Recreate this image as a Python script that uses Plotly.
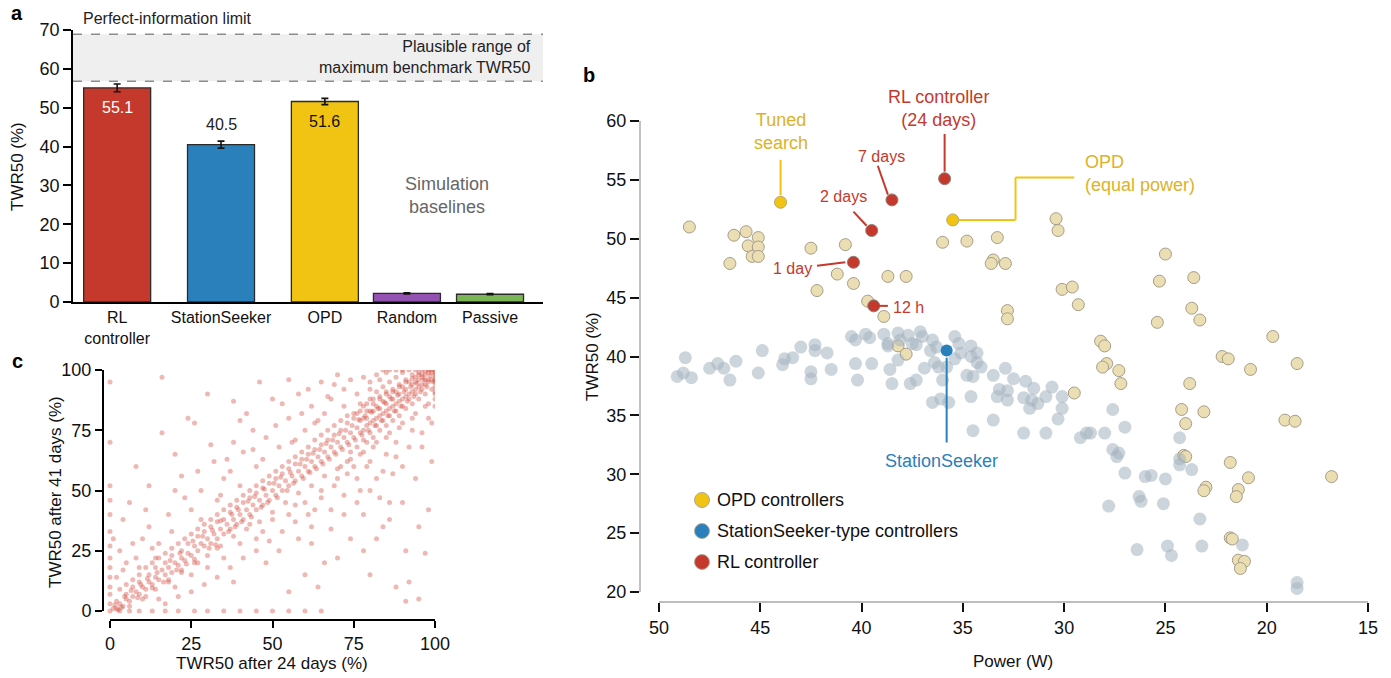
import plotly.graph_objects as go

W, H = 1391, 678
FONT = "Liberation Sans, Arial, sans-serif"


def px(x):
    return x / W


def py(y):
    return 1 - y / H


RED = "#c5392d"
BLUE = "#2a80bb"
GOLD = "#f1c414"
GOLD_TEXT = "#dcb22a"
PURPLE = "#9352b1"
GREEN = "#7ab658"
TAN = "#ecdeb3"
TAN_EDGE = "#a59d89"
SS_GREY = "rgba(164,179,191,0.55)"

# ---------------- panel a: benchmark TWR50 per controller ----------------
controllers = ["RL<br>controller", "StationSeeker", "OPD", "Random", "Passive"]
twr50_mean = [55.1, 40.5, 51.6, 2.2, 2.0]
twr50_err = [1.0, 0.9, 0.8, 0.15, 0.15]
bar_colors = [RED, BLUE, GOLD, PURPLE, GREEN]
bar_pos = [0.0, 1.0, 2.0, 2.79, 3.59]
benchmark_range = [56.8, 68.9]

# ---------------- panel b: TWR50 against power ----------------
opd_points = [
    (48.5, 51.0), (46.3, 50.3), (45.7, 50.6), (45.1, 50.1), (45.6, 49.4), (45.1, 49.3),
    (45.4, 48.5), (45.1, 48.5), (46.5, 47.9), (42.5, 49.2), (40.8, 49.5), (41.2, 47.0),
    (40.4, 46.2), (42.2, 45.6), (39.7, 44.7), (38.9, 43.4), (38.7, 46.8), (37.8, 46.8),
    (36.0, 49.7), (34.8, 49.8), (33.3, 50.1), (33.5, 48.2), (33.6, 47.9), (32.9, 47.9),
    (30.4, 51.7), (30.3, 50.7), (30.1, 45.7), (29.6, 45.9), (29.3, 44.4), (32.8, 43.9),
    (32.8, 43.2), (25.0, 48.7), (25.3, 46.4), (23.6, 46.7), (23.7, 44.1), (23.3, 43.1),
    (25.4, 42.9), (19.7, 41.7), (28.2, 41.3), (28.0, 40.9), (27.9, 39.4), (28.1, 39.1),
    (27.3, 38.8), (27.2, 37.7), (23.8, 37.7), (22.2, 40.0), (21.9, 39.8), (20.8, 38.9),
    (18.5, 39.4), (38.2, 40.9), (37.8, 40.2), (29.5, 36.9), (24.2, 35.5), (23.1, 35.3),
    (24.0, 34.3), (19.1, 34.6), (18.6, 34.5), (24.1, 31.6), (24.0, 31.5), (21.8, 31.0),
    (20.9, 29.7), (16.8, 29.8), (23.0, 28.9), (23.1, 28.6), (21.4, 28.7), (21.5, 28.1),
    (21.8, 24.6), (21.7, 24.5), (21.4, 22.7), (21.1, 22.6), (21.3, 22.0),
]

stationseeker_points = [
    (49.1, 38.3), (48.8, 38.6), (48.4, 38.2), (48.7, 39.9), (47.5, 39.0), (47.1, 39.4),
    (46.8, 39.0), (46.5, 38.0), (46.2, 39.6), (44.9, 40.5), (45.1, 38.6), (43.8, 39.8),
    (43.9, 39.3), (43.4, 39.9), (43.0, 40.8), (42.3, 41.0), (42.3, 40.5), (41.7, 40.3),
    (42.5, 38.7), (42.5, 38.1), (41.5, 38.9), (40.5, 41.7), (40.3, 41.4), (39.8, 41.9),
    (39.6, 41.6), (40.3, 39.4), (39.5, 39.4), (40.2, 38.0), (38.9, 41.9), (38.7, 40.9),
    (38.2, 42.0), (38.6, 38.9), (38.2, 39.7), (38.5, 37.7), (38.7, 41.1), (38.1, 41.4),
    (37.7, 41.8), (37.5, 41.1), (37.1, 42.1), (37.0, 41.7), (37.3, 41.0), (36.5, 41.4),
    (36.6, 40.5), (36.3, 40.8), (37.6, 37.7), (37.3, 38.0), (36.9, 39.0), (36.4, 39.5),
    (36.2, 39.1), (36.0, 38.0), (35.8, 39.1), (35.4, 41.7), (35.2, 41.1), (35.1, 40.3),
    (35.4, 39.8), (34.6, 40.9), (34.6, 40.0), (34.3, 40.3), (34.3, 39.5), (34.1, 39.1),
    (34.8, 38.4), (34.5, 38.3), (33.5, 38.4), (32.9, 39.0), (32.5, 38.1), (31.9, 37.9),
    (33.2, 37.2), (32.8, 37.1), (33.3, 36.6), (32.8, 36.3), (32.0, 36.5), (31.5, 37.3),
    (31.6, 36.3), (31.3, 36.0), (31.7, 35.6), (30.9, 36.6), (30.6, 37.4), (30.1, 36.6),
    (30.1, 35.6), (30.3, 34.7), (34.6, 36.6), (36.5, 36.1), (36.1, 36.4), (35.7, 36.1),
    (33.5, 34.6), (34.5, 33.7), (32.0, 33.5), (30.9, 33.5), (29.2, 33.1), (28.9, 33.5),
    (28.7, 33.5), (28.0, 33.5), (27.6, 35.5), (27.0, 34.0), (27.6, 32.1), (27.3, 31.8),
    (27.4, 31.5), (24.3, 33.1), (24.3, 31.3), (24.3, 30.8), (23.7, 30.4), (27.0, 30.1),
    (26.0, 29.8), (25.7, 29.9), (25.0, 29.6), (26.3, 28.1), (26.2, 27.7), (25.1, 27.5),
    (27.8, 27.3), (23.3, 26.2), (21.2, 24.0), (26.4, 23.6), (24.9, 23.9), (24.7, 23.1),
    (23.2, 23.9), (18.5, 20.8), (18.5, 20.3),
]

rl_labels = ["12 h", "1 day", "2 days", "7 days", "24 days"]
rl_power = [39.4, 40.4, 39.5, 38.5, 35.9]
rl_twr50 = [44.3, 48.0, 50.7, 53.3, 55.1]

tuned_search = (44.0, 53.1)
opd_equal_power = (35.5, 51.6)
stationseeker = (35.8, 40.5)

# ---------------- panel c: TWR50 after 24 vs 41 days ----------------
station_twr = [
    (0, 0), (1, 1), (2, 1), (3, 3), (2, 4), (4, 2), (5, 5), (6, 4), (5, 7), (7, 6), (8, 8), (9, 7),
    (7, 10), (10, 10), (11, 9), (9, 12), (12, 12), (13, 11), (12, 15), (14, 14), (15, 13), (16, 17),
    (14, 18), (17, 15), (18, 18), (19, 16), (17, 20), (20, 20), (21, 19), (19, 23), (22, 22), (23, 21),
    (22, 25), (24, 24), (25, 23), (26, 27), (24, 28), (27, 25), (28, 28), (29, 27), (27, 31), (30, 30),
    (31, 28), (29, 33), (32, 32), (33, 30), (31, 35), (34, 34), (35, 32), (33, 37), (36, 36), (37, 34),
    (35, 38), (38, 38), (39, 36), (37, 41), (40, 40), (41, 38), (39, 43), (42, 42), (43, 40), (41, 45),
    (44, 44), (45, 42), (43, 47), (46, 46), (47, 44), (45, 49), (48, 48), (49, 46), (47, 51), (50, 50),
    (51, 48), (49, 53), (52, 52), (53, 50), (51, 55), (54, 54), (55, 52), (53, 57), (56, 56), (57, 54),
    (55, 59), (58, 58), (59, 56), (57, 61), (60, 60), (61, 58), (59, 63), (62, 62), (63, 60), (61, 65),
    (64, 64), (65, 62), (63, 67), (66, 66), (67, 64), (65, 69), (68, 68), (69, 66), (67, 71), (70, 70),
    (71, 68), (69, 73), (72, 72), (73, 70), (71, 75), (74, 74), (75, 72), (76, 76), (77, 79), (78, 75),
    (79, 80), (80, 78), (81, 83), (82, 80), (83, 84), (84, 82), (85, 86), (86, 84), (87, 88), (88, 86),
    (89, 90), (90, 88), (91, 92), (92, 90), (93, 94), (94, 92), (95, 96), (96, 94), (97, 98), (98, 96),
    (99, 99), (100, 98), (76, 82), (78, 85), (80, 88), (82, 91), (84, 93), (86, 95), (88, 97), (90, 99),
    (92, 100), (79, 70), (81, 72), (83, 75), (85, 77), (87, 79), (89, 81), (91, 84), (93, 86), (95, 88),
    (97, 90), (99, 92), (77, 86), (80, 92), (83, 96), (85, 99), (75, 80), (73, 78), (74, 66), (76, 68),
    (78, 71), (80, 74), (82, 77), (84, 79), (86, 81), (88, 83), (90, 85), (92, 88), (94, 90), (96, 92),
    (98, 95), (100, 100), (100, 96), (100, 93), (99, 96), (97, 94), (95, 93), (93, 91), (91, 89),
    (89, 87), (87, 85), (85, 83), (83, 81), (81, 79), (79, 77), (77, 74), (86, 89), (88, 91), (90, 93),
    (92, 95), (94, 97), (96, 98), (84, 87), (82, 85), (80, 83), (78, 80), (89, 94), (91, 96), (93, 98),
    (95, 99), (87, 91), (85, 90), (83, 88), (81, 86), (79, 83), (94, 95), (96, 97), (98, 99), (97, 96),
    (2, 14), (3, 25), (1, 30), (5, 20), (4, 38), (8, 22), (10, 30), (6, 45), (12, 35), (15, 28),
    (18, 40), (8, 60), (16, 74), (16, 97), (22, 56), (25, 42), (20, 65), (28, 50), (30, 90), (32, 62),
    (26, 78), (35, 55), (38, 70), (40, 52), (42, 82), (45, 60), (48, 72), (50, 88), (46, 95), (52, 68),
    (55, 80), (58, 90), (60, 75), (62, 85), (65, 95), (68, 88), (70, 98), (72, 92), (55, 96), (38, 87),
    (24, 80), (33, 46), (44, 67), (36, 63), (20, 50), (12, 52), (28, 38), (14, 22), (9, 18), (40, 79),
    (57, 71), (63, 78), (66, 82), (15, 5), (20, 10), (25, 15), (30, 18), (35, 22), (38, 12), (40, 28),
    (45, 30), (48, 20), (50, 38), (52, 25), (55, 40), (58, 30), (60, 45), (62, 35), (65, 50), (66, 20),
    (68, 42), (70, 55), (72, 48), (74, 30), (75, 60), (77, 50), (78, 40), (80, 62), (82, 55), (84, 35),
    (85, 65), (86, 45), (88, 70), (90, 60), (91, 25), (93, 75), (95, 5), (96, 68), (98, 80), (97, 24),
    (99, 62), (92, 12), (87, 57), (83, 47), (79, 60), (71, 60), (63, 42), (57, 44), (47, 33), (43, 36),
    (33, 26), (27, 20), (22, 16), (18, 12), (11, 6), (64, 10), (73, 62), (76, 55),
    (0, 3), (0, 7), (0, 10), (0, 14), (0, 18), (0, 22), (0, 27), (0, 33), (0, 40), (0, 46), (0, 52),
    (0, 70), (0, 95), (3, 0), (6, 0), (9, 0), (13, 0), (17, 0), (21, 0), (26, 0), (30, 0), (35, 0),
    (40, 0), (45, 0), (50, 0), (55, 0), (60, 0), (65, 0),
    (1.5, 2.5), (2.5, 0.5), (4.5, 6), (3.5, 1.5), (6.5, 8.5), (8.5, 5.5), (9.5, 11), (11.5, 13.5),
    (13, 9.5), (14.5, 16), (16.5, 12), (18.5, 21), (20.5, 17), (21.5, 24), (23.5, 19.5), (25.5, 29),
    (26, 21.5), (28.5, 31), (30.5, 26), (31.5, 33.5), (32.5, 27.5), (34, 37.5), (36.5, 33), (37.5, 40),
    (38.5, 35), (39.5, 42), (40.5, 37), (42.5, 45.5), (43.5, 39), (44.5, 47.5), (46.5, 43), (47.5, 50.5),
    (48.5, 45), (50.5, 53), (51.5, 47), (52.5, 55.5), (54.5, 50), (55.5, 57.5), (56.5, 53), (58.5, 61),
    (59.5, 55), (60.5, 63), (61.5, 57.5), (62.5, 65.5), (63.5, 59), (64.5, 67), (65.5, 61), (66.5, 69.5),
    (67.5, 63), (68.5, 71), (69.5, 65), (70.5, 73.5), (71.5, 67), (72.5, 75), (73.5, 69), (74.5, 77),
    (75.5, 71), (76.5, 79.5), (77.5, 73), (78.5, 81), (79.5, 75), (80.5, 82.5), (81.5, 77), (82.5, 84),
    (83.5, 79), (84.5, 86.5), (85.5, 81), (86.5, 88), (87.5, 83), (88.5, 89.5), (89.5, 85), (90.5, 91),
    (91.5, 87), (92.5, 93), (93.5, 89), (94.5, 94.5), (95.5, 91), (96.5, 96), (97.5, 93), (98.5, 97.5),
    (99.5, 95), (99, 100), (97, 99.5), (95, 98), (93, 96.5), (91, 95), (89, 93), (87, 92), (85, 91),
    (83, 89), (81, 88), (79, 86), (77, 83), (75, 82), (73, 81), (71, 79), (69, 77), (67, 75), (65, 73),
    (63, 71), (61, 68), (59, 66), (57, 64), (55, 62), (53, 60), (51, 58), (49, 56), (47, 54), (45, 52),
    (43, 50), (41, 48), (39, 46), (37, 44), (35, 42), (33, 40), (31, 38), (29, 36), (27, 34), (25, 32),
    (23, 30), (21, 28), (19, 26), (17, 24), (15, 22), (13, 20), (11, 18), (9, 15), (7, 13), (5, 11),
    (3, 9), (6, 2), (10, 5), (14, 9), (18, 13), (22, 17), (26, 20), (30, 23), (34, 27), (38, 31),
    (42, 34), (46, 37), (50, 41), (54, 45), (58, 49), (62, 52), (66, 56), (70, 59), (74, 63), (78, 66),
    (82, 70), (86, 74), (90, 78), (94, 82), (98, 86), (100, 90), (97, 85), (93, 80), (89, 76), (85, 72),
    (81, 68), (77, 65), (73, 57), (69, 52), (65, 47), (61, 40), (57, 37), (53, 33), (49, 29), (45, 25),
    (41, 22), (37, 18), (33, 14), (29, 11), (25, 8), (21, 6), (17, 3), (4, 17), (7, 28), (11, 42),
    (13, 26), (19, 33), (23, 47), (27, 58), (31, 69), (34, 48), (37, 58), (41, 66), (44, 75), (47, 63),
    (51, 77), (53, 86), (56, 70), (59, 82), (61, 92), (64, 79), (67, 89), (69, 94), (72, 85), (74, 96),
    (76, 90), (78, 97), (80, 95), (82, 98), (84, 100), (86, 100), (88, 100), (90, 100), (94, 100),
    (96, 100), (98, 100), (100, 99), (100, 97), (100, 95), (100, 91), (100, 88), (100, 85), (62, 28),
    (68, 34), (72, 40), (76, 45), (80, 50), (84, 58), (88, 64), (92, 68), (96, 74), (99, 78), (94, 55),
    (90, 45), (86, 38), (82, 30), (78, 25), (70, 22), (60, 15), (55, 8), (98, 42), (95, 35), (91, 4),
    (88, 10), (80, 15),
]
twr_24_days = [p[0] for p in station_twr]
twr_41_days = [p[1] for p in station_twr]

fig = go.Figure()

# ---- panel a traces ----
fig.add_trace(go.Bar(
    x=bar_pos, y=twr50_mean, width=0.645,
    marker=dict(color=bar_colors, line=dict(color="#2b2b2b", width=1.3)),
    error_y=dict(type="data", array=twr50_err, color="#111", thickness=1.6, width=3.5),
    xaxis="x", yaxis="y", showlegend=False,
))

# ---- panel b traces ----
fig.add_trace(go.Scatter(
    x=[p[0] for p in opd_points], y=[p[1] for p in opd_points], mode="markers",
    marker=dict(size=12, color=TAN, line=dict(color=TAN_EDGE, width=1)),
    xaxis="x2", yaxis="y2", showlegend=False,
))
fig.add_trace(go.Scatter(
    x=[p[0] for p in stationseeker_points], y=[p[1] for p in stationseeker_points], mode="markers",
    marker=dict(size=13, color=SS_GREY, line=dict(width=0)),
    xaxis="x2", yaxis="y2", showlegend=False,
))
fig.add_trace(go.Scatter(
    x=rl_power, y=rl_twr50, mode="markers", text=rl_labels,
    marker=dict(size=12, color=RED, line=dict(color="#8f7f78", width=1)),
    xaxis="x2", yaxis="y2", showlegend=False,
))
fig.add_trace(go.Scatter(
    x=[tuned_search[0], opd_equal_power[0]], y=[tuned_search[1], opd_equal_power[1]], mode="markers",
    marker=dict(size=12, color=GOLD, line=dict(color="#b9a66e", width=1)),
    xaxis="x2", yaxis="y2", showlegend=False,
))
fig.add_trace(go.Scatter(
    x=[stationseeker[0]], y=[stationseeker[1]], mode="markers",
    marker=dict(size=12, color=BLUE, line=dict(width=0)),
    xaxis="x2", yaxis="y2", showlegend=False,
))

# ---- panel c trace ----
fig.add_trace(go.Scatter(
    x=twr_24_days, y=twr_41_days, mode="markers",
    marker=dict(size=5, color="#d3473b", opacity=0.38, line=dict(width=0)),
    xaxis="x3", yaxis="y3", showlegend=False,
))

shapes = []
annotations = []


def note(x, y, text, size, color="#111", xanchor="center", yanchor="middle", **kw):
    annotations.append(dict(xref="paper", yref="paper", x=px(x), y=py(y), text=text,
                            xanchor=xanchor, yanchor=yanchor, showarrow=False,
                            font=dict(size=size, color=color), **kw))


# band of plausible maximum TWR50 in panel a
shapes.append(dict(type="rect", xref="x domain", yref="y", x0=0, x1=1,
                   y0=benchmark_range[0], y1=benchmark_range[1],
                   fillcolor="#efefef", line=dict(width=0), layer="below"))
for yv in benchmark_range:
    shapes.append(dict(type="line", xref="x domain", yref="y", x0=0, x1=1, y0=yv, y1=yv,
                       line=dict(color="#8c8c8c", width=1.6, dash="dash")))

bar_label_shift = [-20, 20, -20]
bar_label_color = ["white", "#222", "#111"]
for i in range(3):
    annotations.append(dict(xref="x", yref="y", x=bar_pos[i], y=twr50_mean[i],
                            text=f"{twr50_mean[i]:.1f}", showarrow=False,
                            xanchor="center", yanchor="middle",
                            yshift=bar_label_shift[i], font=dict(size=16, color=bar_label_color[i])))

note(81, 18, "Perfect-information limit", 16, "#222", xanchor="left")
note(533, 57, "Plausible range of<br>maximum benchmark TWR50", 16, "#222", xanchor="right", align="right")
note(447, 195, "Simulation<br>baselines", 18, "#666")
note(18, 167, "TWR50 (%)", 17, textangle=-90)
note(17, 13, "<b>a</b>", 20, "#000")
note(589, 75, "<b>b</b>", 20, "#000")
note(17, 361, "<b>c</b>", 20, "#000")


# ---- panel b call-outs ----
def seg(x0, y0, x1, y1, color):
    shapes.append(dict(type="line", xref="x2", yref="y2", x0=x0, y0=y0, x1=x1, y1=y1,
                       line=dict(color=color, width=2)))


seg(tuned_search[0], tuned_search[1] + 0.6, tuned_search[0], 56.7, GOLD)
seg(rl_power[4], rl_twr50[4] + 0.6, rl_power[4], 58.9, RED)
seg(39.2, 56.2, rl_power[3] + 0.2, rl_twr50[3] + 0.45, RED)
seg(40.4, 52.3, rl_power[2] + 0.25, rl_twr50[2] + 0.4, RED)
seg(42.2, 47.7, rl_power[1] + 0.4, rl_twr50[1], RED)
seg(rl_power[0] - 0.25, rl_twr50[0], 38.7, rl_twr50[0], RED)
seg(opd_equal_power[0] - 0.3, opd_equal_power[1], 32.4, opd_equal_power[1], GOLD)
seg(32.4, opd_equal_power[1], 32.4, 55.2, GOLD)
seg(32.4, 55.2, 29.5, 55.2, GOLD)
seg(stationseeker[0], stationseeker[1] - 0.6, stationseeker[0], 32.7, BLUE)


def dnote(x, y, text, size, color, xanchor="center", **kw):
    annotations.append(dict(xref="x2", yref="y2", x=x, y=y, text=text, showarrow=False,
                            xanchor=xanchor, yanchor="middle",
                            font=dict(size=size, color=color), **kw))


dnote(44.0, 59.15, "Tuned<br>search", 18, GOLD_TEXT, align="center")
dnote(39.0, 57.0, "7 days", 16, RED)
dnote(40.9, 53.6, "2 days", 16, RED)
dnote(43.4, 47.5, "1 day", 16, RED)
dnote(38.55, 44.2, "12 h", 16, RED, xanchor="left")
dnote(29.07, 55.5, "OPD<br>(equal power)", 18, GOLD_TEXT, xanchor="left", align="left")
dnote(36.05, 31.1, "StationSeeker", 18, BLUE)
annotations.append(dict(xref="x2", yref="paper", x=36.2, y=py(108),
                        text="RL controller<br>(24 days)", showarrow=False,
                        xanchor="center", yanchor="middle", align="center",
                        font=dict(size=18, color=RED)))

note(592, 357, "TWR50 (%)", 17, textangle=-90)
note(1013, 661, "Power (W)", 17)

# legend of panel b
legend_items = [("OPD controllers", GOLD), ("StationSeeker-type controllers", BLUE), ("RL controller", RED)]
for k, (name, col) in enumerate(legend_items):
    yc = 500 + 31 * k
    shapes.append(dict(type="circle", xref="paper", yref="paper",
                       x0=px(694.5), x1=px(709.5), y0=py(yc + 7.5), y1=py(yc - 7.5),
                       fillcolor=col, line=dict(color="#b0a89a", width=1)))
    note(715, yc, name, 18, xanchor="left")

# axis titles of panel c
note(55, 492, "TWR50 after 41 days (%)", 17, textangle=-90)
note(272, 663, "TWR50 after 24 days (%)", 17)

# detached axis lines of panels b and c (the ticks come from the axes themselves)
axis_lines = [
    (640, 121, 640, 592, "#a8a8a8", 1.4),
    (659, 602, 1368, 602, "#a8a8a8", 1.4),
    (103, 370, 103, 611, "#000", 2),
    (110, 620, 435, 620, "#000", 2),
]
for x0, y0, x1, y1, col, lw in axis_lines:
    shapes.append(dict(type="line", xref="paper", yref="paper", x0=px(x0), y0=py(y0),
                       x1=px(x1), y1=py(y1), line=dict(color=col, width=lw)))

axis_common = dict(showgrid=False, zeroline=False, automargin=False,
                   tickfont=dict(size=18, color="#111"))

fig.update_layout(
    width=W, height=H, autosize=False,
    margin=dict(l=0, r=0, t=0, b=0, pad=0, autoexpand=False),
    paper_bgcolor="white", plot_bgcolor="rgba(0,0,0,0)",
    font=dict(family=FONT, color="#111"),
    hovermode=False,
    xaxis=dict(domain=[px(73), px(543)], range=[-0.425, 4.1], anchor="y",
               tickvals=bar_pos, ticktext=controllers, ticks="", showline=True,
               linecolor="#000", linewidth=2, showgrid=False, zeroline=False, automargin=False,
               tickfont=dict(size=16, color="#111")),
    yaxis=dict(domain=[py(302), py(30)], range=[0, 70], anchor="x", dtick=10,
               ticks="outside", ticklen=8, tickwidth=1.6, tickcolor="#000",
               showline=True, linecolor="#000", linewidth=1.6, **axis_common),
    xaxis2=dict(domain=[px(640), px(1368)], range=[50 + 19 / 20.26, 15], anchor="y2",
                tickvals=[50, 45, 40, 35, 30, 25, 20, 15], ticks="outside", ticklen=9,
                tickwidth=2, tickcolor="#111", showline=False, **axis_common),
    yaxis2=dict(domain=[py(602), py(121)], range=[20 - 10 / 11.775, 60], anchor="x2",
                tickvals=[20, 25, 30, 35, 40, 45, 50, 55, 60], ticks="outside", ticklen=9,
                tickwidth=2, tickcolor="#111", showline=False, **axis_common),
    xaxis3=dict(domain=[px(103), px(435)], range=[-7 / 3.25, 100], anchor="y3",
                tickvals=[0, 25, 50, 75, 100], ticks="outside", ticklen=7, tickwidth=1.6,
                tickcolor="#000", showline=False, **axis_common),
    yaxis3=dict(domain=[py(620), py(370)], range=[-9 / 2.41, 100], anchor="x3",
                tickvals=[0, 25, 50, 75, 100], ticks="outside", ticklen=7, tickwidth=1.6,
                tickcolor="#000", showline=False, **axis_common),
    shapes=shapes,
    annotations=annotations,
)

fig.write_html("out.html", config={"displayModeBar": False},
               post_script="document.body.style.margin='0px';")
